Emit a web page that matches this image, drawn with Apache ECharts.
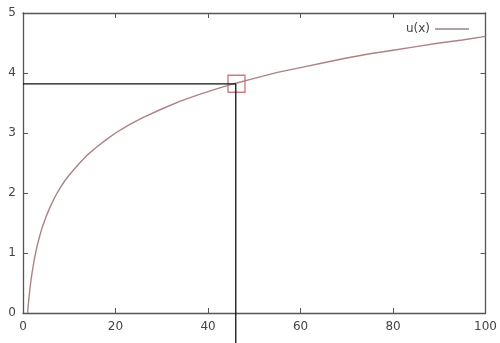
<!DOCTYPE html>
<html>
<head>
<meta charset="utf-8">
<script src="https://cdn.jsdelivr.net/npm/echarts@6/dist/echarts.min.js"></script>
<style>html,body{margin:0;padding:0;background:#fff}#c{width:500px;height:343px}</style>
</head>
<body>
<div id="c"></div>
<script>
// values
var curveX = [1, 1.1, 1.25, 1.5, 1.75, 2, 2.5, 3, 3.5, 4, 4.5, 5, 6, 7, 8, 9, 10, 12, 14, 16, 18, 20, 23, 26, 30, 34, 38, 42, 46, 50, 55, 60, 65, 70, 75, 80, 85, 90, 95, 100];
var curveY = [0, 0.10, 0.22, 0.41, 0.56, 0.69, 0.92, 1.10, 1.25, 1.39, 1.50, 1.61, 1.79, 1.95, 2.08, 2.20, 2.30, 2.48, 2.64, 2.77, 2.89, 3.00, 3.14, 3.26, 3.40, 3.53, 3.64, 3.74, 3.83, 3.91, 4.01, 4.09, 4.17, 4.25, 4.32, 4.38, 4.44, 4.50, 4.55, 4.61];
var pointX = 46;
var pointY = 3.82;
var xTicks = [0, 20, 40, 60, 80, 100];
var yTicks = [0, 1, 2, 3, 4, 5];
var seriesName = 'u(x)';

var curve = curveX.map(function (x, i) { return [x, curveY[i]]; });
var axisColor = '#555';
var labelStyle = {color: '#444', fontSize: 12, fontFamily: 'DejaVu Sans'};

function mkX(pos, show) {
  return {
    type: 'value', position: pos, min: xTicks[0], max: xTicks[xTicks.length - 1], interval: 20,
    axisLine: {show: true, onZero: false, lineStyle: {color: axisColor, width: 1.3}},
    axisTick: {show: true, inside: true, length: 5, lineStyle: {color: axisColor}},
    axisLabel: Object.assign({show: show, margin: 8}, labelStyle),
    splitLine: {show: false}
  };
}
function mkY(pos, show) {
  return {
    type: 'value', position: pos, min: yTicks[0], max: yTicks[yTicks.length - 1], interval: 1,
    axisLine: {show: true, onZero: false, lineStyle: {color: axisColor, width: 1.3}},
    axisTick: {show: true, inside: true, length: 5, lineStyle: {color: axisColor}},
    axisLabel: Object.assign({show: show, margin: 7}, labelStyle),
    splitLine: {show: false}
  };
}

var chart = echarts.init(document.getElementById('c'), null, {renderer: 'canvas'});
chart.setOption({
  animation: false,
  backgroundColor: '#fff',
  grid: {left: 23, right: 14, top: 13, bottom: 30},
  xAxis: [mkX('bottom', true), mkX('top', false)],
  yAxis: [mkY('left', true), mkY('right', false)],
  legend: {
    show: true, right: 26, top: 18, align: 'right',
    icon: 'rect', itemWidth: 34, itemHeight: 1.3, itemGap: 6,
    textStyle: {color: '#444', fontSize: 12, fontFamily: 'DejaVu Sans'},
    data: [{name: seriesName, itemStyle: {color: '#9a8484'}}]
  },
  series: [
    {
      name: seriesName, type: 'line', data: curve, showSymbol: false, symbol: 'none',
      smooth: false,
      lineStyle: {color: '#ad8285', width: 1.4}, itemStyle: {color: '#9a8484'}
    },
    {
      name: 'h', type: 'line', data: [[0, pointY], [pointX, pointY]], symbol: 'none',
      lineStyle: {color: '#111', width: 1.3}, silent: true
    },
    {
      name: 'v', type: 'line', data: [[pointX, pointY], [pointX, -0.5]], symbol: 'none', clip: false,
      lineStyle: {color: '#111', width: 1.3}, silent: true
    },
    {
      name: 'pt', type: 'scatter', data: [[pointX + 0.15, pointY]], symbol: 'rect', symbolSize: 17,
      itemStyle: {color: 'rgba(0,0,0,0)', borderColor: '#c25a66', borderWidth: 1.4}, silent: true
    }
  ]
});
</script>
</body>
</html>
